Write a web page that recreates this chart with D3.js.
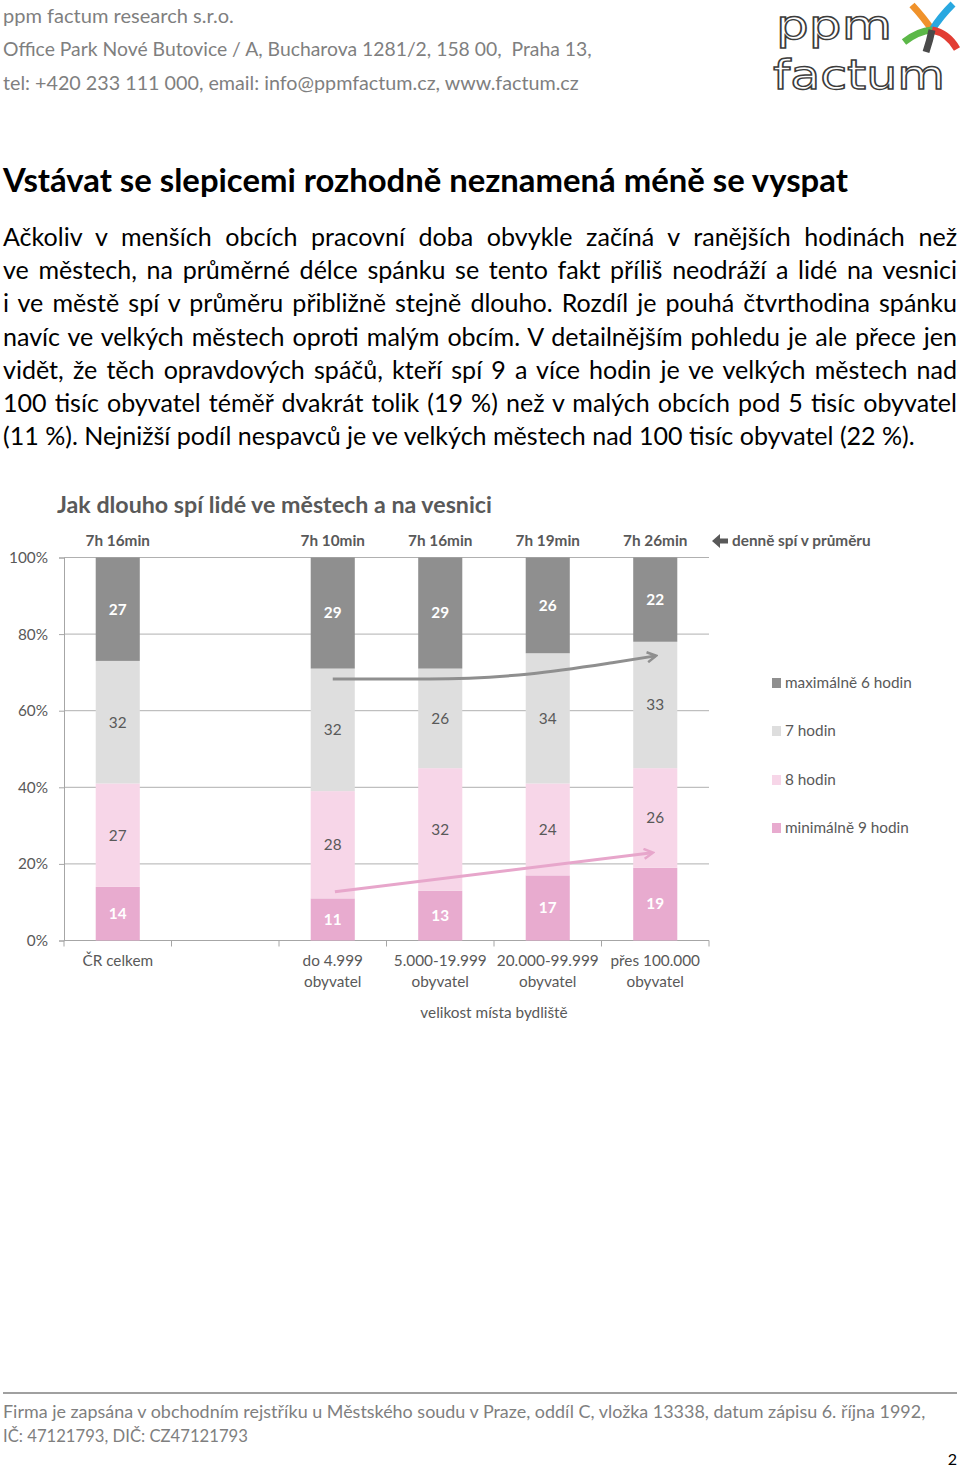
<!DOCTYPE html>
<html>
<head>
<meta charset="utf-8">
<script src="https://cdn.jsdelivr.net/npm/d3@7"></script>
<style>
  body { margin: 0; background: #fff; }
  svg text { white-space: pre; }
</style>
</head>
<body>
<script>
const W = 960, H = 1470;
const FONT = "Lato, 'Open Sans', sans-serif";

// ---- data ----
const headerLines = [
  "ppm factum research s.r.o.",
  "Office Park Nové Butovice / A, Bucharova 1281/2, 158 00,  Praha 13,",
  "tel: +420 233 111 000, email: info@ppmfactum.cz, www.factum.cz"
];
const pageTitle = "Vstávat se slepicemi rozhodně neznamená méně se vyspat";
const bodyLines = [
  "Ačkoliv v menších obcích pracovní doba obvykle začíná v ranějších hodinách než",
  "ve městech, na průměrné délce spánku se tento fakt příliš neodráží a lidé na vesnici",
  "i ve městě spí v průměru přibližně stejně dlouho. Rozdíl je pouhá čtvrthodina spánku",
  "navíc ve velkých městech oproti malým obcím. V detailnějším pohledu je ale přece jen",
  "vidět, že těch opravdových spáčů, kteří spí 9 a více hodin je ve velkých městech nad",
  "100 tisíc obyvatel téměř dvakrát tolik (19 %) než v malých obcích pod 5 tisíc obyvatel",
  "(11 %). Nejnižší podíl nespavců je ve velkých městech nad 100 tisíc obyvatel (22 %)."
];
const footerLines = [
  "Firma je zapsána v obchodním rejstříku u Městského soudu v Praze, oddíl C, vložka 13338, datum zápisu 6. října 1992,",
  "IČ: 47121793, DIČ: CZ47121793"
];

const chartTitle = "Jak dlouho spí lidé ve městech a na vesnici";
const categories = [["ČR celkem"], [], ["do 4.999", "obyvatel"], ["5.000-19.999", "obyvatel"],
                    ["20.000-99.999", "obyvatel"], ["přes 100.000", "obyvatel"]];
const averages = ["7h 16min", null, "7h 10min", "7h 16min", "7h 19min", "7h 26min"];
const min9 = [14, null, 11, 13, 17, 19];
const h8   = [27, null, 28, 32, 24, 26];
const h7   = [32, null, 32, 26, 34, 33];
const max6 = [27, null, 29, 29, 26, 22];
const seriesNames = ["maximálně 6 hodin", "7 hodin", "8 hodin", "minimálně 9 hodin"];
const yTicks = [0, 20, 40, 60, 80, 100];
const averageNote = "denně spí v průměru";
const xTitle = "velikost místa bydliště";
// trend arrows: [category index, percent]
const grayArrow = [[2, 68.3], [2.9, 68.3], [3.83, 69.6], [4.6, 72.5], [5.0, 74.3]];
const pinkArrow = [[2.02, 12.7], [4.97, 22.9]];

const COLORS = { max6: "#8f8f8f", h7: "#dedede", h8: "#f7d6e8", min9: "#e8abcf" };
const TXT = "#595959";

const svg = d3.select("body").append("svg").attr("width", W).attr("height", H);

function fit(sel, width) {
  const fs = parseFloat(sel.attr("font-size"));
  const w = sel.node().getComputedTextLength();
  sel.attr("font-size", fs * width / w);
  return sel;
}

// ---- header ----
const hdr = [[23, 231], [56, 589], [90, 576]];
headerLines.forEach((t, i) => {
  fit(svg.append("text").attr("x", 3).attr("y", hdr[i][0]).attr("font-family", FONT)
    .attr("font-size", 19).attr("fill", "#7f7f7f").text(t), hdr[i][1]);
});

// logo
const logo = svg.append("g");
logo.append("text").attr("x", 776).attr("y", 39).attr("font-family", "'DejaVu Sans', sans-serif")
  .attr("font-size", 40).attr("fill", "#fff").attr("stroke", "#3c3c3c").attr("stroke-width", 1.4)
  .attr("textLength", 116).attr("lengthAdjust", "spacingAndGlyphs").text("ppm");
logo.append("text").attr("x", 773).attr("y", 89).attr("font-family", "'DejaVu Sans', sans-serif")
  .attr("font-size", 40).attr("fill", "#fff").attr("stroke", "#3c3c3c").attr("stroke-width", 1.4)
  .attr("textLength", 172).attr("lengthAdjust", "spacingAndGlyphs").text("factum");
const arms = [
  ["#f0922b", "M912,5 Q924,18 932,30"],
  ["#29a8e0", "M953,4 Q940,17 932,30"],
  ["#5cb848", "M904,42 Q918,31 932,30"],
  ["#e23d33", "M932,30 Q948,33 957,49"],
  ["#4a4a4a", "M932,30 Q930,40 926,52"]
];
arms.forEach(a => logo.append("path").attr("d", a[1]).attr("fill", "none")
  .attr("stroke", a[0]).attr("stroke-width", 7).attr("stroke-linecap", "butt"));

// ---- title + body ----
fit(svg.append("text").attr("x", 3).attr("y", 192).attr("font-family", FONT)
  .attr("font-weight", "bold").attr("font-size", 30).attr("fill", "#000").text(pageTitle), 845);

const probe = svg.append("text").attr("font-family", FONT).attr("font-size", 24)
  .text(bodyLines[bodyLines.length - 1]);
const bodyFs = 24 * 912 / probe.node().getComputedTextLength();
probe.remove();
bodyLines.forEach((t, i) => {
  const tx = svg.append("text").attr("x", 3).attr("y", 246 + i * 33.2)
    .attr("font-family", FONT).attr("font-size", bodyFs).attr("fill", "#000").text(t);
  if (i < bodyLines.length - 1) {
    const spaces = t.split(" ").length - 1;
    const w = tx.node().getComputedTextLength();
    tx.attr("word-spacing", (954 - w) / spaces);
  }
});

// ---- chart ----
fit(svg.append("text").attr("x", 57).attr("y", 513).attr("font-family", FONT)
  .attr("font-weight", "bold").attr("font-size", 22).attr("fill", TXT).text(chartTitle), 435);

const x = d3.scaleBand().domain(d3.range(categories.length)).range([64, 709])
  .paddingInner(0.59).paddingOuter(0.295);
const y = d3.scaleLinear().domain([0, 100]).range([940.5, 557.5]);
const cx = i => x(0) + x.bandwidth() / 2 + i * x.step();

// label font size from legend width
const lp = svg.append("text").attr("font-family", FONT).attr("font-size", 14).text(seriesNames[0]);
const LFS = 14 * 127 / lp.node().getComputedTextLength();
lp.remove();

// gridlines
svg.append("g").selectAll("line").data(yTicks.slice(1)).join("line")
  .attr("x1", 64).attr("x2", 709).attr("y1", d => y(d)).attr("y2", d => y(d))
  .attr("stroke", "#b0b0b0").attr("stroke-width", 1);

// y axis
const yAxis = svg.append("g").attr("transform", "translate(64,0)")
  .call(d3.axisLeft(y).tickValues(yTicks).tickSize(5).tickPadding(11).tickFormat(d => d + "%"));
yAxis.selectAll("path,line").attr("stroke", "#a6a6a6");
yAxis.selectAll("text").attr("font-family", FONT).attr("font-size", LFS).attr("fill", TXT);

// x axis line + ticks at category boundaries
svg.append("line").attr("x1", 64).attr("x2", 709).attr("y1", y(0)).attr("y2", y(0))
  .attr("stroke", "#a6a6a6");
svg.append("g").selectAll("line").data(d3.range(categories.length + 1)).join("line")
  .attr("x1", i => 64 + i * x.step()).attr("x2", i => 64 + i * x.step())
  .attr("y1", y(0)).attr("y2", y(0) + 6).attr("stroke", "#a6a6a6");

// stacked bars
const keys = ["min9", "h8", "h7", "max6"];
const rows = categories.map((c, i) => ({ i, min9: min9[i], h8: h8[i], h7: h7[i], max6: max6[i] }))
  .filter(r => r.min9 != null);
const stack = d3.stack().keys(keys)(rows);
const dark = { min9: true, max6: true };
stack.forEach(layer => {
  const g = svg.append("g");
  layer.forEach(d => {
    const lo = Math.min(d[0], 100), hi = Math.min(d[1], 100);
    g.append("rect").attr("x", x(d.data.i)).attr("width", x.bandwidth())
      .attr("y", y(hi)).attr("height", y(lo) - y(hi)).attr("fill", COLORS[layer.key]);
    g.append("text").attr("x", cx(d.data.i)).attr("y", (y(lo) + y(hi)) / 2)
      .attr("dy", "0.35em").attr("text-anchor", "middle").attr("font-family", FONT)
      .attr("font-size", LFS).attr("font-weight", dark[layer.key] ? "bold" : "normal")
      .attr("fill", dark[layer.key] ? "#fff" : TXT).text(d.data[layer.key]);
  });
});

// averages above bars
svg.append("g").selectAll("text").data(averages.map((a, i) => [a, i]).filter(d => d[0])).join("text")
  .attr("x", d => cx(d[1])).attr("y", 546).attr("text-anchor", "middle")
  .attr("font-family", FONT).attr("font-weight", "bold").attr("font-size", LFS).attr("fill", TXT)
  .text(d => d[0]);
svg.append("path").attr("d", "M712,541 L720,534 L720,538.5 L728,538.5 L728,543.5 L720,543.5 L720,548 Z")
  .attr("fill", TXT);
svg.append("text").attr("x", 732).attr("y", 546).attr("font-family", FONT)
  .attr("font-weight", "bold").attr("font-size", LFS).attr("fill", TXT).text(averageNote);

// x labels
categories.forEach((c, i) => {
  c.forEach((line, j) => {
    svg.append("text").attr("x", cx(i)).attr("y", 966 + j * 21).attr("text-anchor", "middle")
      .attr("font-family", FONT).attr("font-size", LFS).attr("fill", TXT).text(line);
  });
});
svg.append("text").attr("x", cx(3.5)).attr("y", 1018).attr("text-anchor", "middle")
  .attr("font-family", FONT).attr("font-size", LFS).attr("fill", TXT).text(xTitle);

// legend
const legendY = [683, 731, 780, 828];
const legendKeys = ["max6", "h7", "h8", "min9"];
seriesNames.forEach((n, i) => {
  svg.append("rect").attr("x", 772).attr("y", legendY[i] - 5).attr("width", 9).attr("height", 10)
    .attr("fill", COLORS[legendKeys[i]]);
  svg.append("text").attr("x", 785).attr("y", legendY[i]).attr("dy", "0.35em")
    .attr("font-family", FONT).attr("font-size", LFS).attr("fill", TXT).text(n);
});

// trend arrows
const defs = svg.append("defs");
[["ga", "#8f8f8f"], ["pa", "#e7a6cb"]].forEach(m => {
  defs.append("marker").attr("id", m[0]).attr("viewBox", "0 0 12 12").attr("refX", 9).attr("refY", 6)
    .attr("markerWidth", 12).attr("markerHeight", 12).attr("markerUnits", "userSpaceOnUse")
    .attr("orient", "auto")
    .append("path").attr("d", "M1,1 L10,6 L1,11").attr("fill", "none")
    .attr("stroke", m[1]).attr("stroke-width", 2.5);
});
const line = d3.line().x(d => cx(d[0])).y(d => y(d[1])).curve(d3.curveMonotoneX);
svg.append("path").datum(grayArrow).attr("d", line).attr("fill", "none")
  .attr("stroke", "#8f8f8f").attr("stroke-width", 3).attr("marker-end", "url(#ga)");
svg.append("path").datum(pinkArrow).attr("d", d3.line().x(d => cx(d[0])).y(d => y(d[1])))
  .attr("fill", "none").attr("stroke", "#e7a6cb").attr("stroke-width", 3).attr("marker-end", "url(#pa)");

// ---- footer ----
svg.append("line").attr("x1", 3).attr("x2", 957).attr("y1", 1393).attr("y2", 1393)
  .attr("stroke", "#a0a0a0").attr("stroke-width", 2);
const ftr = [[1418, 923], [1442, 245]];
footerLines.forEach((t, i) => {
  fit(svg.append("text").attr("x", 3).attr("y", ftr[i][0]).attr("font-family", FONT)
    .attr("font-size", 18).attr("fill", "#7f7f7f").text(t), ftr[i][1]);
});
svg.append("text").attr("x", 957).attr("y", 1465).attr("text-anchor", "end")
  .attr("font-family", FONT).attr("font-size", 16).attr("fill", "#000").text("2");
</script>
</body>
</html>
